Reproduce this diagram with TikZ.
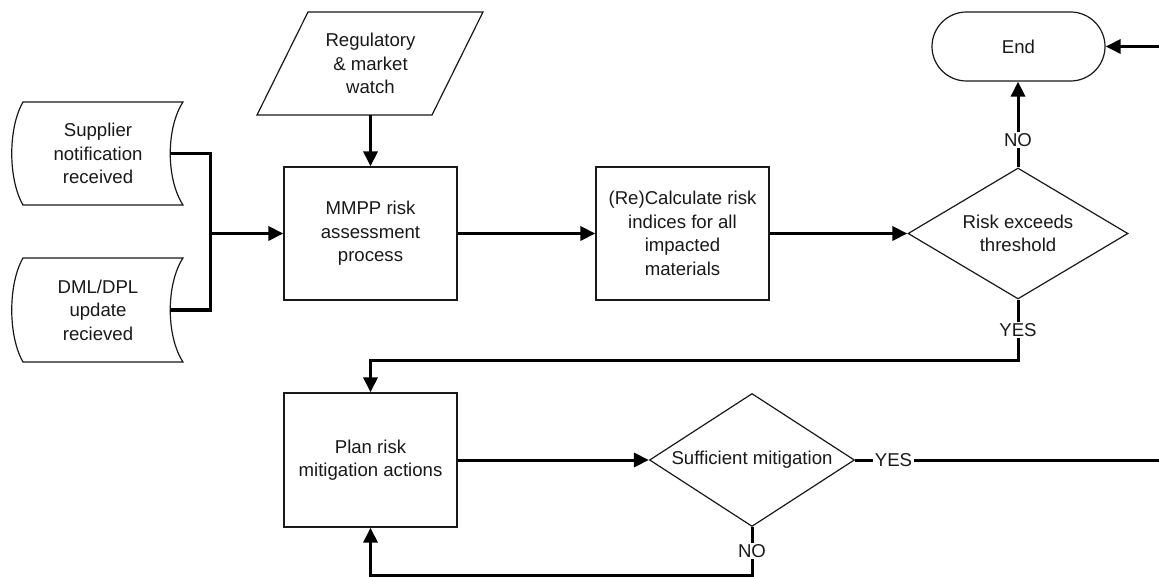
\documentclass[tikz,border=0pt]{standalone}
\usepackage{fontspec}
\setmainfont{Liberation Sans}
\usetikzlibrary{arrows.meta,shapes.geometric,shapes.misc}
\tikzset{
  txt/.style={font=\fontsize{18.6}{23.5}\selectfont, align=center, inner sep=0pt, text=black!90},
  outline/.style={draw=black!90, line width=1.2pt},
  procbox/.style={txt, outline, rectangle, minimum width=173pt, minimum height=133pt},
  decision/.style={txt, outline, diamond, aspect=1.6},
  terminal/.style={txt, outline, rounded rectangle, minimum width=173pt, minimum height=69pt},
  conn/.style={line width=3pt, black},
  arrowconn/.style={conn, -{Triangle[length=15pt,width=14pt]}},
  lbl/.style={txt, fill=white, inner sep=1.5pt},
}
\begin{document}
\begin{tikzpicture}[x=1pt,y=-1pt]
\clip (0,0) rectangle (1159,577);
\fill[white] (0,0) rectangle (1159,577);

% stored data shapes
\draw[outline] (23,102) -- (183,102) .. controls (166,128) and (166,179) .. (183,205)
  -- (23,205) .. controls (8,179) and (8,128) .. (23,102) -- cycle;
\draw[outline] (23,258) -- (183,258) .. controls (166,284) and (166,336) .. (183,362)
  -- (23,362) .. controls (8,336) and (8,284) .. (23,258) -- cycle;
\node[txt, minimum width=144pt] (sup) at (98,153.5) {Supplier\\notification\\received};
\node[txt, minimum width=144pt] (dml) at (98,310) {DML/DPL\\update\\recieved};

% parallelogram
\draw[outline] (308,12) -- (483,12) -- (432,115) -- (257,115) -- cycle;
\node[txt, minimum height=103pt] (reg) at (370.5,63.5) {Regulatory\\\& market\\watch};

% process boxes
\node[procbox] (mmpp) at (370.5,233.5) {MMPP risk\\assessment\\process};
\node[procbox] (calc) at (682.5,233.5) {(Re)Calculate risk\\indices for all\\impacted\\materials};
\node[procbox, minimum height=134pt] (plan) at (370.5,460) {Plan risk\\mitigation actions};

% decisions
\node[decision, minimum width=220pt, minimum height=131pt] (risk) at (1018,233.5) {Risk exceeds\\threshold};
\node[decision, minimum width=205pt, minimum height=133pt] (suff) at (752,460) {Sufficient mitigation};

% terminal
\node[terminal] (end) at (1018.5,46.5) {End};

% helper coordinates
\coordinate (j) at (210,233.5);
\coordinate (c1) at (1018,360);
\coordinate (rb) at (1175,460);
\coordinate (cb) at (752,575);

% connectors
\draw[conn] (sup.east) -| (j);
\draw[conn] (dml.east) -| (j);
\draw[arrowconn] (j) -- (mmpp.west);
\draw[arrowconn] (reg.south) -- (mmpp.north);
\draw[arrowconn] (mmpp.east) -- (calc.west);
\draw[arrowconn] (calc.east) -- (risk.west);
\draw[arrowconn] (risk.north) -- node[lbl, pos=0.32] {NO} (risk.north |- end.south);
\draw[arrowconn] (risk.south) -- node[lbl] {YES} (c1) -| (plan.north);
\draw[arrowconn] (plan.east) -- (suff.west);
\draw[arrowconn] (suff.east) -- node[lbl, pos=0.12] {YES} (rb) |- (end.east);
\draw[arrowconn] (suff.south) -- node[lbl] {NO} (cb) -| (plan.south);
\end{tikzpicture}
\end{document}
